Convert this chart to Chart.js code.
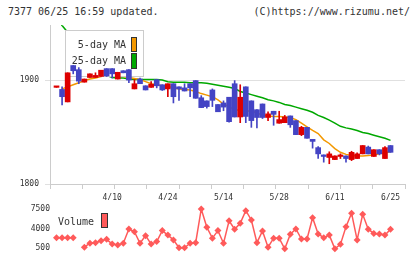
<!DOCTYPE html>
<html>
<head>
<meta charset="utf-8">
<script src="https://cdn.jsdelivr.net/npm/chart.js@4.4.1/dist/chart.umd.min.js"></script>
<style>
  body { margin: 0; background: #fff; width: 420px; height: 259px; position: relative; overflow: hidden; }
  .txt { position: absolute; top: 6px; font: 10px/12px "DejaVu Sans Mono", monospace; color: #333; white-space: nowrap; }
  #head { left: 8px; }
  #copy { right: 10px; }
  canvas { position: absolute; left: 0; }
  #main { top: 0; }
  #vol { top: 190px; }
</style>
</head>
<body>
<div id="head" class="txt">7377 06/25 16:59 updated.</div>
<div id="copy" class="txt">(C)https://www.rizumu.net/</div>
<canvas id="main" width="420" height="205"></canvas>
<canvas id="vol" width="420" height="69"></canvas>
<script>
// Data
const dates = ['3/27','3/28','3/29','4/1','4/2','4/3','4/4','4/5','4/8','4/9',
  '4/10','4/11','4/12','4/15','4/16','4/17','4/18','4/19','4/22','4/23',
  '4/24','4/25','4/26','4/30','5/1','5/2','5/7','5/8','5/9','5/10',
  '5/14','5/15','5/16','5/17','5/20','5/21','5/22','5/23','5/24','5/27',
  '5/28','5/29','5/30','5/31','6/3','6/4','6/5','6/6','6/7','6/10',
  '6/11','6/12','6/13','6/14','6/17','6/18','6/19','6/20','6/21','6/24','6/25'];
const dateTicks = ['4/10','4/24','5/14','5/28','6/11','6/25'];

const opens  = [1893,1891,1879,1914,1910,1898,1902.5,1902.5,1903.5,1911,
  1911,1901,1909,1910,1891.5,1901,1894.5,1893,1900.5,1895.5,
  1891.5,1896.5,1893.5,1892.5,1896.5,1899.5,1883,1880,1890.5,1876.5,
  1878,1883.5,1896.5,1864.5,1893.5,1880,1871.5,1877,1864,1870,
  1858.5,1859,1865.5,1861,1847.5,1854.5,1843,1835,1828,1825.5,
  1823.5,1826.5,1827,1823.5,1824.5,1829,1835.5,1826.5,1833,1824.5,1837];
const closes = [1893,1884,1907,1909,1899,1901,1906,1904.5,1909.5,1904,
  1906,1907.5,1907,1900,1896.5,1896.5,1890.5,1896,1894.5,1890.5,
  1896.5,1884,1891.5,1889.5,1892.5,1882.5,1873.5,1874.5,1880.5,1869.5,
  1874,1860,1864.5,1883.5,1865,1861,1864,1864,1867.5,1867,
  1862,1864.5,1857,1847.5,1854.5,1844,1841,1829,1826.5,1829,
  1827,1826.5,1824.5,1830.5,1829,1837,1829,1833,1829,1835,1830.5];
const highs  = [1893,1893.5,1907,1914,1912,1901,1906,1907,1909.5,1911,
  1911,1907.5,1909,1910,1900.5,1902,1894.5,1898.5,1900.5,1895.5,
  1896.5,1896.5,1893.5,1896.5,1896.5,1899.5,1885,1880,1891.5,1876.5,
  1880,1883.5,1899.5,1895.5,1893.5,1880,1871.5,1877,1869.5,1870,
  1870,1866,1865.5,1861,1855.5,1854.5,1843,1836,1828,1831,
  1827,1829,1827,1831.5,1830,1837,1836.5,1833,1833,1836,1837];
const lows   = [1893,1876,1879,1906,1896.5,1898,1902.5,1902.5,1903.5,1903.5,
  1902,1901,1907,1897.5,1891.5,1896.5,1890.5,1893,1892.5,1890,
  1884,1878,1880.5,1889.5,1884,1882.5,1873.5,1873,1874.5,1869.5,
  1870.5,1859.5,1864.5,1859,1859,1854.5,1854,1863,1861,1856.5,
  1858.5,1859,1854.5,1847.5,1846.5,1844,1834.5,1824.5,1821,1819.5,
  1823.5,1824.5,1821,1822.5,1824.5,1829,1829,1826.5,1828,1824.5,1830.5];

const ma5 = [null,1891.5,1893.5,1895.5,1897.5,1899.5,1901,1902,1903.5,1904.5,
  1905,1904.5,1903.5,1902.5,1901.5,1900.5,1898.5,1896.5,1895.5,1894.5,
  1894,1892.5,1891.5,1891,1890.5,1889,1887,1885.5,1884,1881,
  1877,1874.5,1871.5,1871,1870.5,1870,1868.5,1866,1865.5,1865,
  1865,1864.5,1864,1862,1858.5,1855,1851.5,1848.5,1842.5,1839,
  1834,1830.5,1828.5,1827.5,1827,1827,1827.5,1828,1829,1830,1831];
const ma25 = [1960,1952.5,1946,1939,1932.5,1926,1919.5,1913.5,1908.5,1904.5,
  1902.5,1902,1902,1901,1900.5,1900.5,1900.5,1900.5,1900.5,1900,
  1898.5,1898,1898,1898,1897.5,1897.5,1897.5,1897,1896,1895,
  1894,1893,1892,1889,1887.5,1886,1884.5,1883,1881,1880,
  1878.5,1876.5,1875.5,1874,1872.5,1871,1869,1866,1864,1861.5,
  1858.5,1855.5,1854,1853,1851.5,1849.5,1848.5,1847,1845.5,1844,1842];

const volumes = [2400,2400,2400,2400,null,700,1400,1500,1850,2100,
  1250,1100,1400,3950,3450,1400,2750,1250,1700,3650,
  2850,2000,600,600,1400,1500,7500,4250,2300,3650,
  1400,5400,3900,4950,7200,5550,1500,3600,700,2300,
  2300,400,3000,3950,2150,2150,5950,3050,2400,2850,
  400,1200,4350,6750,2000,6550,3900,3150,3050,2850,3900];
const volTicks = [500, 4000, 7500];
const priceTicks = [1800, 1900];

// Colours
const RED = '#dd0000';
const BLUE = '#4444c4';
const ORANGE = '#f39800';
const GREEN = '#00a800';
const VOLCOL = '#ff5a5a';
const FONT = '"DejaVu Sans Mono", monospace';

const X_MIN = -1.17, X_MAX = 62.6;
const candleColors = closes.map((c, i) => c >= opens[i] ? RED : BLUE);

// legend box drawn over the MA lines but under the candles
const mainLegend = {
  id: 'mainLegend',
  beforeDatasetDraw(chart, args) {
    if (args.index !== 2) return;
    const ctx = chart.ctx;
    ctx.save();
    ctx.fillStyle = '#fff';
    ctx.fillRect(65, 30, 78, 47);
    ctx.strokeStyle = '#cccccc';
    ctx.lineWidth = 1;
    ctx.strokeRect(65.5, 30.5, 78, 46);
    ctx.restore();
  },
  afterDatasetsDraw(chart) {
    const ctx = chart.ctx;
    ctx.save();
    ctx.font = '10px ' + FONT;
    ctx.fillStyle = '#333';
    ctx.textAlign = 'right';
    ctx.textBaseline = 'middle';
    ctx.fillText('5-day MA', 126, 45);
    ctx.fillText('25-day MA', 126, 61);
    ctx.strokeStyle = '#333';
    ctx.fillStyle = ORANGE;
    ctx.fillRect(131, 37, 6, 15);
    ctx.strokeRect(131.5, 37.5, 5, 14);
    ctx.fillStyle = GREEN;
    ctx.fillRect(131, 53, 6, 16);
    ctx.strokeRect(131.5, 53.5, 5, 15);
    ctx.restore();
  }
};

new Chart(document.getElementById('main'), {
  type: 'bar',
  data: {
    datasets: [
      {
        type: 'line', label: '25-day MA', order: 4,
        data: ma25.map((v, i) => ({ x: i, y: v })),
        borderColor: GREEN, borderWidth: 1.5, pointRadius: 0, tension: 0
      },
      {
        type: 'line', label: '5-day MA', order: 3,
        data: ma5.map((v, i) => ({ x: i, y: v })),
        borderColor: ORANGE, borderWidth: 1.5, pointRadius: 0, tension: 0
      },
      {
        label: 'wick', order: 2, grouped: false,
        data: highs.map((h, i) => ({ x: i, y: [lows[i], h] })),
        backgroundColor: candleColors, barThickness: 1, minBarLength: 1
      },
      {
        label: 'body', order: 1, grouped: false,
        data: opens.map((o, i) => ({ x: i, y: [o, closes[i]] })),
        backgroundColor: candleColors, barThickness: 5, minBarLength: 1.5
      }
    ]
  },
  options: {
    responsive: false,
    animation: false,
    layout: { padding: { left: 0, right: 15, top: 25, bottom: 5 } },
    plugins: { legend: { display: false }, tooltip: { enabled: false } },
    scales: {
      x: {
        type: 'linear', position: 'bottom', weight: 1, offset: false,
        min: X_MIN, max: X_MAX,
        grid: { display: false, drawTicks: false, offset: false },
        border: { display: false },
        afterBuildTicks: s => { s.ticks = dateTicks.map(d => ({ value: dates.indexOf(d) })); },
        afterFit: s => { s.height = 12; },
        ticks: {
          autoSkip: false, maxRotation: 0, padding: 5,
          color: '#333', font: { family: FONT, size: 8 },
          callback: v => dates[v]
        }
      },
      xt: {
        type: 'linear', position: 'bottom', weight: 0, offset: false,
        min: 0, max: 11,
        afterBuildTicks: s => { s.ticks = Array.from({ length: 12 }, (_, k) => ({ value: k })); },
        afterFit: s => { s.height = 4; },
        grid: { drawOnChartArea: false, color: '#cccccc', tickLength: 5, offset: false },
        border: { color: '#cccccc' },
        ticks: { display: false }
      },
      y: {
        position: 'left',
        min: 1800, max: 1953,
        afterBuildTicks: s => { s.ticks = priceTicks.map(v => ({ value: v })); },
        afterFit: s => { s.width = 50; },
        grid: { color: '#e0e0e0', tickLength: 5 },
        border: { color: '#cccccc' },
        ticks: { padding: 6, color: '#333', font: { family: FONT, size: 8 }, callback: v => String(v) }
      }
    }
  },
  plugins: [mainLegend]
});

const volLegend = {
  id: 'volLegend',
  afterDatasetsDraw(chart) {
    const ctx = chart.ctx;
    ctx.save();
    ctx.font = '10px ' + FONT;
    ctx.fillStyle = '#333';
    ctx.textBaseline = 'middle';
    ctx.fillText('Volume', 58, 32);
    ctx.fillStyle = VOLCOL;
    ctx.fillRect(101, 23, 7, 15);
    ctx.strokeStyle = '#333';
    ctx.strokeRect(101.5, 23.5, 6, 14);
    ctx.restore();
  }
};

new Chart(document.getElementById('vol'), {
  type: 'line',
  data: {
    datasets: [{
      label: 'Volume',
      data: volumes.map((v, i) => ({ x: i, y: v })),
      borderColor: VOLCOL, borderWidth: 1.5,
      pointStyle: 'rectRot', pointRadius: 3.5,
      pointBackgroundColor: VOLCOL, pointBorderWidth: 0,
      spanGaps: false, tension: 0, clip: false
    }]
  },
  options: {
    responsive: false,
    animation: false,
    layout: { padding: { left: 6, right: 15, top: 10, bottom: 5 } },
    plugins: { legend: { display: false }, tooltip: { enabled: false } },
    scales: {
      x: { type: 'linear', min: X_MIN, max: X_MAX, offset: false, display: false },
      y: {
        min: -515, max: 9103,
        afterBuildTicks: s => { s.ticks = volTicks.map(v => ({ value: v })); },
        afterFit: s => { s.width = 44; },
        grid: { display: false, drawTicks: false },
        border: { display: false },
        ticks: { padding: 0, color: '#333', font: { family: FONT, size: 8 }, callback: v => String(v) }
      }
    }
  },
  plugins: [volLegend]
});
</script>
</body>
</html>
